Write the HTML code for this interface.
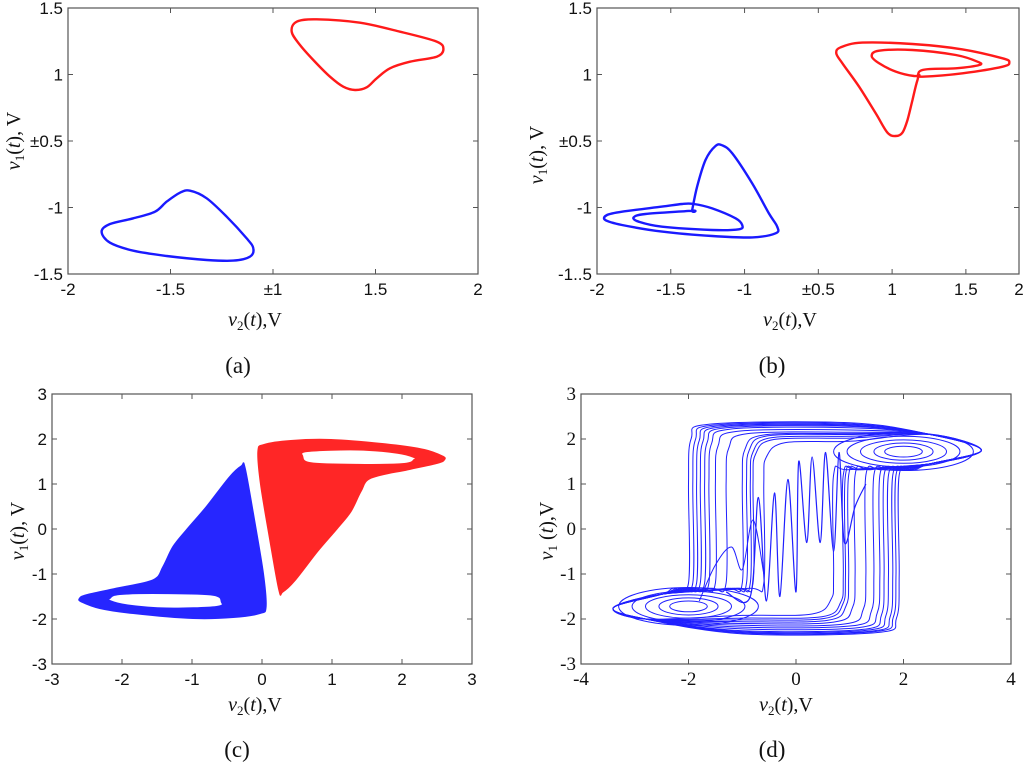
<!DOCTYPE html>
<html><head><meta charset="utf-8">
<style>
html,body{margin:0;padding:0;background:#fff;}
svg{display:block;}
.tk{font-family:"Liberation Sans",sans-serif;font-size:17px;fill:#111;}
.tks{font-family:"Liberation Serif",serif;font-size:19px;fill:#111;}
.ttl{font-family:"Liberation Serif",serif;font-size:20px;fill:#111;}
.cap{font-family:"Liberation Serif",serif;font-size:23px;fill:#111;}
</style></head>
<body>
<svg id="fig" width="1024" height="765" viewBox="0 0 1024 765" xmlns="http://www.w3.org/2000/svg"></svg>
<script>
// ---------- Panel (a) data (axis index units) ----------
const aXTickVals = [0,1,2,3,4];
const aXTickLabels = ["-2","-1.5","\u00b11","1.5","2"];
const aYTickVals = [0,1,2,3,4];
const aYTickLabels = ["-1.5","-1","\u00b10.5","1","1.5"];
const aRedX = [2.182,2.231,2.426,2.849,3.239,3.597,3.662,3.597,3.337,3.141,3.011,2.914,2.800,2.686,2.556,2.393,2.263];
const aRedY = [3.644,3.794,3.830,3.779,3.644,3.494,3.378,3.268,3.193,3.093,2.942,2.807,2.767,2.817,2.967,3.218,3.444];
const aBlueX = [0.328,0.410,0.637,0.849,0.963,1.093,1.190,1.353,1.548,1.743,1.808,1.776,1.613,1.353,0.963,0.637,0.410];
const aBlueY = [0.637,0.752,0.837,0.937,1.088,1.223,1.253,1.138,0.862,0.536,0.386,0.261,0.201,0.211,0.271,0.351,0.471];

// ---------- Panel (b) data ----------
const bXTickVals = [0,1,2,3,4,5,5.72];
const bXTickLabels = ["-2","-1.5","-1","\u00b10.5","1","1.5","2"];
const bYTickVals = [0,1,2,3,4];
const bYTickLabels = ["-1..5","-1","\u00b10.5","1","1.5"];
const bRedX = [4.367,4.412,4.955,5.498,5.588,5.498,4.955,4.276,3.597,3.303,3.244,3.326,3.552,3.778,3.937,4.050,4.140,4.208,4.276,4.344,4.412,4.864,5.181,5.158,4.864,4.276,3.824,3.724,3.824,4.050,4.299];
const bRedY = [2.992,2.967,3.018,3.118,3.183,3.243,3.378,3.459,3.479,3.409,3.318,3.168,2.817,2.416,2.125,2.075,2.125,2.316,2.617,2.917,3.068,3.093,3.143,3.193,3.293,3.368,3.358,3.278,3.168,3.043,2.977];
const bBlueX = [1.290,1.357,1.471,1.606,1.697,1.833,2.104,2.330,2.443,2.421,2.104,1.561,0.882,0.339,0.113,0.136,0.339,0.882,1.154,1.312,1.561,1.878,1.968,1.923,1.561,0.882,0.566,0.498,0.656,1.290];
const bBlueY = [0.962,1.313,1.714,1.925,1.935,1.815,1.363,0.912,0.712,0.612,0.551,0.571,0.637,0.737,0.812,0.887,0.937,1.013,1.053,1.053,0.987,0.837,0.737,0.672,0.662,0.712,0.787,0.852,0.902,0.952];

// ---------- Panel (c) data (volts) ----------
const cTickVals = [-3,-2,-1,0,1,2,3];
const cTickLabels = ["-3","-2","-1","0","1","2","3"];
const cBlueX = [-2.604,-2.509,-2.080,-1.556,-1.413,-1.270,-1.079,-0.793,-0.459,-0.293,-0.245,-0.126,0.017,0.055,-0.030,-0.412,-0.984,-1.842,-2.318,-2.581];
const cBlueY = [-1.541,-1.467,-1.319,-1.133,-0.837,-0.393,-0.022,0.496,1.163,1.400,1.370,0.348,-0.985,-1.726,-1.874,-1.963,-1.985,-1.874,-1.763,-1.615];
const cBlueHoleX = [-2.175,-2.032,-1.365,-0.698,-0.579,-0.650,-1.365,-1.937,-2.175];
const cBlueHoleY = [-1.541,-1.452,-1.430,-1.467,-1.615,-1.726,-1.763,-1.689,-1.593];
const cRedX = [2.604,2.509,2.080,1.556,1.413,1.270,1.079,0.793,0.459,0.293,0.245,0.126,-0.017,-0.055,0.030,0.412,0.984,1.842,2.318,2.581];
const cRedY = [1.541,1.467,1.319,1.133,0.837,0.393,0.022,-0.496,-1.163,-1.400,-1.370,-0.348,0.985,1.726,1.874,1.963,1.985,1.874,1.763,1.615];
const cRedHoleX = [2.175,2.032,1.365,0.698,0.579,0.650,1.365,1.937,2.175];
const cRedHoleY = [1.541,1.452,1.430,1.467,1.615,1.726,1.763,1.689,1.593];

// ---------- Panel (d) data (volts) ----------
const dXTickVals = [-4,-2,0,2,4];
const dXTickLabels = ["-4","-2","0","2","4"];
const dYTickVals = [-3,-2,-1,0,1,2,3];
const dYTickLabels = ["-3","-2","-1","0","1","2","3"];
const dLeftX = [-2.0,-1.92,-1.85,-1.78,-1.7,-1.62,-1.5,-1.3,-1.0,-0.92,-0.85,-0.8,-0.6];
const dRightX = [1.92,1.86,1.8,1.72,1.64,1.56,1.45,1.3,1.1,0.98,0.92,0.88,0.7];
const dTopY = [2.36,2.34,2.32,2.3,2.28,2.25,2.2,2.15,2.12,2.1,2.06,2.02,1.95];
const dBotY = [-2.33,-2.31,-2.3,-2.28,-2.26,-2.22,-2.18,-2.14,-2.1,-2.06,-2.02,-1.98,-1.92];
const dZigX = [-1.3,-0.85,-0.7,-0.55,-0.4,-0.3,-0.15,0,0.05,0.2,0.3,0.45,0.55,0.7,0.8,0.9,1.1,1.3];
const dZigY = [-1.4,-1.5,0.7,-1.6,0.8,-1.5,1.1,-1.4,1.5,-0.3,1.6,-0.3,1.7,-0.5,1.7,-0.3,0.5,1.0];
const dArcX = [-1.8,-1.5,-1.2,-1.0,-0.8,-0.6];
const dArcY = [-1.6,-0.8,-0.4,-0.9,0.2,-1.0];
const dLobeRx = [1.3,1.05,0.8,0.55,0.35];
const dLobeRy = [0.42,0.34,0.26,0.19,0.12];

// ---------- rendering ----------
const NS = "http://www.w3.org/2000/svg";
const fig = document.getElementById('fig');
function mk(tag, attrs, parent){ const e=document.createElementNS(NS,tag); for(const k in attrs) e.setAttribute(k,attrs[k]); (parent||fig).appendChild(e); return e; }
function scale(d0,d1,r0,r1){ return v => r0 + (v-d0)/(d1-d0)*(r1-r0); }
function smoothPath(pts, closed){
  const n=pts.length; if(n<2) return "";
  let d="M"+pts[0][0].toFixed(1)+","+pts[0][1].toFixed(1);
  const get=i=> closed ? pts[(i+n)%n] : pts[Math.max(0,Math.min(n-1,i))];
  const m = closed ? n : n-1;
  for(let i=0;i<m;i++){
    const p0=get(i-1),p1=get(i),p2=get(i+1),p3=get(i+2);
    const c1=[p1[0]+(p2[0]-p0[0])/6,p1[1]+(p2[1]-p0[1])/6];
    const c2=[p2[0]-(p3[0]-p1[0])/6,p2[1]-(p3[1]-p1[1])/6];
    d+="C"+c1[0].toFixed(1)+","+c1[1].toFixed(1)+" "+c2[0].toFixed(1)+","+c2[1].toFixed(1)+" "+p2[0].toFixed(1)+","+p2[1].toFixed(1);
  }
  return closed? d+"Z" : d;
}
function zipPts(xs,ys,sx,sy){ return xs.map((x,i)=>[sx(x),sy(ys[i])]); }

function axesPanel(cfg){
  const g = mk('g',{});
  
  
  const {x0,x1,y0,y1} = cfg;
  const sx = scale(cfg.xd[0],cfg.xd[1],x0,x1), sy = scale(cfg.yd[0],cfg.yd[1],y1,y0);
  const plot = mk('g',{},g);
  
  
  cfg.draw(plot,sx,sy);
  const box = mk('rect',{x:x0,y:y0,width:x1-x0,height:y1-y0,fill:'none',stroke:'#555','stroke-width':1.2},g);
  
  
  const cls = cfg.serif ? 'tks' : 'tk';
  cfg.xt.forEach((v,i)=>{
    const X=sx(v);
    mk('line',{x1:X,x2:X,y1:y1,y2:y1-5,stroke:'#555'},g);
    mk('line',{x1:X,x2:X,y1:y0,y2:y0+5,stroke:'#555'},g);
    const t=mk('text',{x:X,y:y1+21,'text-anchor':'middle','class':cls},g);
    t.textContent=cfg.xl[i];
    
    
  });
  cfg.yt.forEach((v,i)=>{
    const Y=sy(v);
    mk('line',{x1:x0,x2:x0+5,y1:Y,y2:Y,stroke:'#555'},g);
    mk('line',{x1:x1,x2:x1-5,y1:Y,y2:Y,stroke:'#555'},g);
    const t=mk('text',{x:x0-5,y:Y+6,'text-anchor':'end','class':cls},g);
    t.textContent=cfg.yl[i];
    
    
  });
  const xt = mk('text',{x:cfg.xtx,y:cfg.xty,'text-anchor':'middle','class':'ttl'},g);
  xt.innerHTML = '<tspan font-style="italic">v</tspan><tspan font-size="13" dy="4">2</tspan><tspan dy="-4">(</tspan><tspan font-style="italic">t</tspan><tspan>),V</tspan>';
  
  
  const yt = mk('text',{x:0,y:0,'text-anchor':'middle','class':'ttl',transform:'translate('+cfg.ytx+','+cfg.yty+') rotate(-90)'},g);
  yt.innerHTML = '<tspan font-style="italic">v</tspan><tspan font-size="13" dy="4">1</tspan><tspan dy="-4">'+(cfg.ysp?' ':'')+'(</tspan><tspan font-style="italic">t</tspan><tspan>),'+(cfg.yspV?' ':'')+'V</tspan>';
  
  
  const cap = mk('text',{x:cfg.capx,y:cfg.capy,'text-anchor':'middle','class':'cap'},g);
  cap.textContent = cfg.cap;
  
  
}

function loop(plot,xs,ys,sx,sy,color,name,w){
  const p = mk('path',{d:smoothPath(zipPts(xs,ys,sx,sy),true),fill:'none',stroke:color,'stroke-width':w||2.4,'stroke-linejoin':'round'},plot);
  
  
}

axesPanel({name:'panel-a',x0:68,x1:478,y0:8,y1:274,xd:[0,4],yd:[0,4],xt:aXTickVals,xl:aXTickLabels,yt:aYTickVals,yl:aYTickLabels,
  xtx:255,xty:326,ytx:20,yty:141,yspV:true,cap:'(a)',capx:238,capy:373,
  draw:(pl,sx,sy)=>{ loop(pl,aRedX,aRedY,sx,sy,'#ff1a1a','red-limit-cycle'); loop(pl,aBlueX,aBlueY,sx,sy,'#1a1aff','blue-limit-cycle'); }});

axesPanel({name:'panel-b',x0:597,x1:1019,y0:8,y1:274,xd:[0,5.72],yd:[0,4],xt:bXTickVals,xl:bXTickLabels,yt:bYTickVals,yl:bYTickLabels,
  xtx:790,xty:326,ytx:543,yty:155,yspV:true,cap:'(b)',capx:772,capy:373,
  draw:(pl,sx,sy)=>{ loop(pl,bRedX,bRedY,sx,sy,'#ff1a1a','red-period-2-cycle'); loop(pl,bBlueX,bBlueY,sx,sy,'#1a1aff','blue-period-2-cycle'); }});

function region(pl,xs,ys,hx,hy,sx,sy,color,name){
  const d = smoothPath(zipPts(xs,ys,sx,sy),true)+" "+smoothPath(zipPts(hx,hy,sx,sy),true);
  const p = mk('path',{d:d,fill:color,'fill-rule':'evenodd',stroke:color,'stroke-width':1.5,opacity:0.92},pl);
  
  
}
axesPanel({name:'panel-c',x0:52,x1:472,y0:394,y1:664,xd:[-3,3],yd:[-3,3],xt:cTickVals,xl:cTickLabels,yt:cTickVals,yl:cTickLabels,
  xtx:255,xty:711,ytx:24,yty:531,yspV:true,cap:'(c)',capx:237,capy:757,
  draw:(pl,sx,sy)=>{ region(pl,cBlueX,cBlueY,cBlueHoleX,cBlueHoleY,sx,sy,'#1414ff','blue-chaotic-attractor'); region(pl,cRedX,cRedY,cRedHoleX,cRedHoleY,sx,sy,'#ff1414','red-chaotic-attractor'); }});

axesPanel({name:'panel-d',x0:581,x1:1011,y0:394,y1:664,xd:[-4,4],yd:[-3,3],xt:dXTickVals,xl:dXTickLabels,yt:dYTickVals,yl:dYTickLabels,serif:true,
  xtx:786,xty:711,ytx:553,yty:531,ysp:true,cap:'(d)',capx:772,capy:757,
  draw:(pl,sx,sy)=>{
    dLeftX.forEach((lx,i)=>{
      const rx=dRightX[i], top=dTopY[i], bot=dBotY[i];
      const px=[3.45,2.5,1.0,lx+0.4,lx+0.05,lx,lx,lx-0.3,-2.5,-3.4,-2.8,-1.0,rx-0.4,rx-0.05,rx,rx,rx+0.3,2.5];
      const py=[1.75,2.1,top,top-0.03,top-0.35,1.0,-1.2,-1.32,-1.45,-1.75,-2.0,bot,bot+0.03,bot+0.35,-1.0,1.2,1.32,1.45];
      const p=mk('path',{d:smoothPath(zipPts(px,py,sx,sy),true),fill:'none',stroke:'#2020ff','stroke-width':1},pl);
      
      
    });
    dLobeRx.forEach((r,i)=>{
      const ry=dLobeRy[i];
      const e1=mk('ellipse',{cx:sx(2.0),cy:sy(1.72),rx:(sx(r)-sx(0)),ry:(sy(0)-sy(ry)),fill:'none',stroke:'#2020ff','stroke-width':1},pl);
      
      
      const e2=mk('ellipse',{cx:sx(-2.0),cy:sy(-1.72),rx:(sx(r)-sx(0)),ry:(sy(0)-sy(ry)),fill:'none',stroke:'#2020ff','stroke-width':1},pl);
      
      
    });
    const z=mk('path',{d:smoothPath(zipPts(dZigX,dZigY,sx,sy),false),fill:'none',stroke:'#2020ff','stroke-width':1.2},pl);
    
    
    const a=mk('path',{d:smoothPath(zipPts(dArcX,dArcY,sx,sy),false),fill:'none',stroke:'#2020ff','stroke-width':1},pl);
    
    
  }});
</script>
</body></html>
